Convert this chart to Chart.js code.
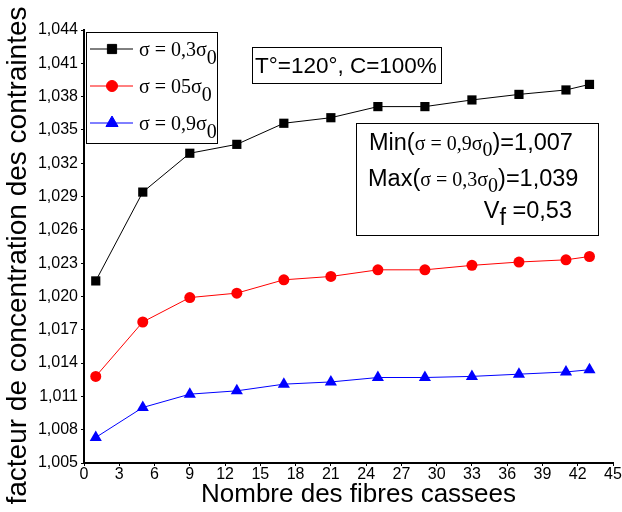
<!DOCTYPE html>
<html>
<head>
<meta charset="utf-8">
<script src="https://cdn.jsdelivr.net/npm/chart.js@4.4.1/dist/chart.umd.min.js"></script>
<style>
  html, body { margin: 0; padding: 0; background: #fff; }
  #wrap { width: 622px; height: 512px; }
</style>
</head>
<body>
<div id="wrap"><canvas id="chart" width="622" height="512"></canvas></div>
<script>
// Data
const fibres = [1, 5, 9, 13, 17, 21, 25, 29, 33, 37, 41, 43];
const sigma03 = [1.0214, 1.0294, 1.0329, 1.0337, 1.0356, 1.0361, 1.0371, 1.0371, 1.0377, 1.0382, 1.0386, 1.0391];
const sigma05 = [1.0128, 1.0177, 1.0199, 1.0203, 1.0215, 1.0218, 1.0224, 1.0224, 1.0228, 1.0231, 1.0233, 1.0236];
const sigma09 = [1.0073, 1.0100, 1.0112, 1.0115, 1.0121, 1.0123, 1.0127, 1.0127, 1.0128, 1.0130, 1.0132, 1.0134];

const seriesLabels = ['\u03c3 = 0,3\u03c3', '\u03c3 = 05\u03c3', '\u03c3 = 0,9\u03c3'];
const xTicks = [0, 3, 6, 9, 12, 15, 18, 21, 24, 27, 30, 33, 36, 39, 42, 45];
const yTicks = [1.005, 1.008, 1.011, 1.014, 1.017, 1.020, 1.023, 1.026, 1.029, 1.032, 1.035, 1.038, 1.041, 1.044];
const xTitle = 'Nombre des fibres cassees';
const yTitle = 'facteur de concentration des contraintes';

const SANS = "'Liberation Sans', Arial, sans-serif";
const SERIF = "'Liberation Serif', 'Times New Roman', serif";

const toPoints = vals => fibres.map((x, i) => ({ x: x, y: vals[i] }));

function drawRuns(ctx, runs, x, y) {
    let cx = x;
    runs.forEach(r => {
        ctx.font = r.font;
        ctx.fillText(r.text, cx, y + (r.dy || 0));
        cx += ctx.measureText(r.text).width;
    });
    return cx;
}

function runsWidth(ctx, runs) {
    let w = 0;
    runs.forEach(r => { ctx.font = r.font; w += ctx.measureText(r.text).width; });
    return w;
}

// axis titles, legend and text boxes drawn on top of the chart
const annotations = {
    id: 'annotations',
    afterDraw(chart) {
        const ctx = chart.ctx;
        const a = chart.chartArea;
        ctx.save();
        ctx.fillStyle = '#000';
        ctx.strokeStyle = '#000';
        ctx.lineWidth = 1;

        // axis titles (slightly off-centre, as in the original)
        ctx.textAlign = 'center';
        ctx.textBaseline = 'middle';
        ctx.font = '26px ' + SANS;
        ctx.fillText(xTitle, (a.left + a.right) / 2 + 10, chart.height - 17);
        ctx.save();
        ctx.translate(18, (a.top + a.bottom) / 2 + 9);
        ctx.rotate(-Math.PI / 2);
        ctx.font = '28px ' + SANS;
        ctx.fillText(yTitle, 0, 0);
        ctx.restore();
        ctx.textAlign = 'left';
        ctx.textBaseline = 'alphabetic';

        // legend box
        const lx = a.left + 2, ly = a.top + 2;
        ctx.fillStyle = '#fff';
        ctx.fillRect(lx + 0.5, ly + 0.5, 131, 111);
        ctx.strokeRect(lx + 0.5, ly + 0.5, 131, 111);
        chart.data.datasets.forEach((ds, i) => {
            const cy = ly + 17 + i * 37;
            ctx.strokeStyle = ds.borderColor;
            ctx.lineWidth = 1;
            ctx.beginPath();
            ctx.moveTo(lx + 4, cy);
            ctx.lineTo(lx + 47, cy);
            ctx.stroke();
            ctx.fillStyle = ds.backgroundColor;
            Chart.helpers.drawPoint(ctx, {
                pointStyle: ds.pointStyle, radius: ds.pointRadius,
                borderWidth: 1, rotation: 0
            }, lx + 26, cy);
            ctx.fillStyle = '#000';
            drawRuns(ctx, [
                { text: seriesLabels[i], font: '20px ' + SERIF },
                { text: '0', font: '20px ' + SERIF, dy: 8 }
            ], lx + 53, cy + 7);
        });

        // condition box
        ctx.strokeStyle = '#000';
        ctx.fillStyle = '#fff';
        const bx = a.left + 168, by = a.top + 17;
        ctx.fillRect(bx + 0.5, by + 0.5, 189, 36);
        ctx.strokeRect(bx + 0.5, by + 0.5, 189, 36);
        ctx.fillStyle = '#000';
        ctx.font = '22.5px ' + SANS;
        ctx.fillText('T\u00b0=120\u00b0, C=100%', bx + 3, by + 26);

        // min / max box
        const mx = a.left + 272, my = a.top + 93;
        ctx.fillStyle = '#fff';
        ctx.fillRect(mx + 0.5, my + 0.5, 242, 112);
        ctx.strokeRect(mx + 0.5, my + 0.5, 242, 112);
        ctx.fillStyle = '#000';
        drawRuns(ctx, [
            { text: 'Min(', font: '23.5px ' + SANS },
            { text: '\u03c3 = 0,9\u03c3', font: '20px ' + SERIF },
            { text: '0', font: '20px ' + SERIF, dy: 6 },
            { text: ')=1,007', font: '23.5px ' + SANS }
        ], mx + 13, my + 27);
        drawRuns(ctx, [
            { text: 'Max(', font: '23.5px ' + SANS },
            { text: '\u03c3 = 0,3\u03c3', font: '20px ' + SERIF },
            { text: '0', font: '20px ' + SERIF, dy: 6 },
            { text: ')=1,039', font: '23.5px ' + SANS }
        ], mx + 12, my + 63);
        const vf = [
            { text: 'V', font: '23.5px ' + SANS },
            { text: 'f', font: '23.5px ' + SANS, dy: 7 },
            { text: ' =0,53', font: '23.5px ' + SANS }
        ];
        drawRuns(ctx, vf, mx + 216 - runsWidth(ctx, vf), my + 95);
        ctx.restore();
    }
};

new Chart(document.getElementById('chart').getContext('2d'), {
    type: 'line',
    data: {
        datasets: [
            {
                label: seriesLabels[0],
                data: toPoints(sigma03),
                borderColor: '#000000',
                backgroundColor: '#000000',
                borderWidth: 1,
                pointStyle: 'rect',
                pointRadius: 6.5,
                pointBorderWidth: 0
            },
            {
                label: seriesLabels[1],
                data: toPoints(sigma05),
                borderColor: '#ff0000',
                backgroundColor: '#ff0000',
                borderWidth: 1,
                pointStyle: 'circle',
                pointRadius: 5.5,
                pointBorderWidth: 0
            },
            {
                label: seriesLabels[2],
                data: toPoints(sigma09),
                borderColor: '#0000ff',
                backgroundColor: '#0000ff',
                borderWidth: 1,
                pointStyle: 'triangle',
                pointRadius: 7,
                pointBorderWidth: 0
            }
        ]
    },
    options: {
        responsive: false,
        animation: false,
        layout: { padding: { top: 30, right: 9 } },
        plugins: {
            legend: { display: false },
            tooltip: { enabled: false }
        },
        scales: {
            x: {
                type: 'linear',
                min: 0,
                max: 45,
                afterBuildTicks: scale => { scale.ticks = xTicks.map(v => ({ value: v })); },
                afterFit: scale => { scale.height = 49; },
                grid: { display: true, drawOnChartArea: false, drawTicks: true, tickLength: 3, color: '#000' },
                border: { display: true, color: '#000', width: 2 },
                ticks: {
                    color: '#000',
                    padding: -1,
                    maxRotation: 0,
                    autoSkip: false,
                    font: { family: SANS, size: 16 }
                },
                title: { display: false }
            },
            y: {
                type: 'linear',
                min: 1.005,
                max: 1.044,
                afterBuildTicks: scale => { scale.ticks = yTicks.map(v => ({ value: v })); },
                afterFit: scale => { scale.width = 84; },
                grid: { display: true, drawOnChartArea: false, drawTicks: true, tickLength: 3, color: '#000' },
                border: { display: true, color: '#000', width: 2 },
                ticks: {
                    color: '#000',
                    padding: 3,
                    autoSkip: false,
                    font: { family: SANS, size: 16 },
                    callback: v => v.toFixed(3).replace('.', ',')
                },
                title: { display: false }
            }
        }
    },
    plugins: [annotations]
});
</script>
</body>
</html>
